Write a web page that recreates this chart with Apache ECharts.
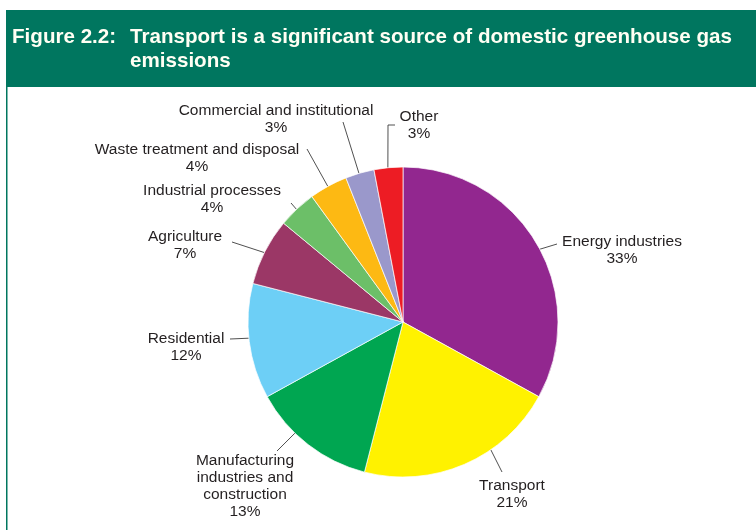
<!DOCTYPE html>
<html>
<head>
<meta charset="utf-8">
<script src="https://cdn.jsdelivr.net/npm/echarts@6/dist/echarts.min.js"></script>
<style>
  html, body { margin: 0; padding: 0; background: #ffffff; }
  #chart { width: 756px; height: 530px; }
</style>
</head>
<body>
<div id="chart"></div>
<script>
// Sources of domestic greenhouse gas emissions (share of total, %)
const categories = [
  'Energy industries',
  'Transport',
  'Manufacturing\nindustries and\nconstruction',
  'Residential',
  'Agriculture',
  'Industrial processes',
  'Waste treatment and disposal',
  'Commercial and institutional',
  'Other'
];
const shares = [33, 21, 13, 12, 7, 4, 4, 3, 3];

const sliceColors = [
  '#92278F', '#FFF200', '#00A651', '#6DCFF6', '#9B3766',
  '#6CBF68', '#FDB913', '#9A98CB', '#ED1C24'
];

// Pie geometry
const CX = 403, CY = 322, R = 155;
const GREEN = '#00765F';
const TITLE_FONT = 'bold 20.6px "Liberation Sans", Arial, sans-serif';

// Label placement: text centre, angle (deg clockwise from top) where the
// leader line leaves the rim, and the remaining leader points.
const labelSpots = [
  { x: 622, y: 250, arc: 62,    line: [[557, 244]] },
  { x: 512, y: 494, arc: 145.5, line: [[502, 472]] },
  { x: 245, y: 486, arc: 224.2, line: [[277, 451]] },
  { x: 186, y: 347, arc: 264,   line: [[230, 339]] },
  { x: 185, y: 245, arc: 296.6, line: [[232, 242]] },
  { x: 212, y: 199, arc: 316.6, line: [[291, 203]] },
  { x: 197, y: 158, arc: 331,   line: [[307, 149]] },
  { x: 276, y: 119, arc: 343.5, line: [[343, 122]] },
  { x: 419, y: 125, arc: 354.4, line: [[388, 125], [395, 125]] }
];

const chart = echarts.init(document.getElementById('chart'), null, { renderer: 'canvas' });

chart.setOption({
  animation: false,
  backgroundColor: '#ffffff',
  graphic: [
    { type: 'rect', left: 6, top: 10, shape: { width: 750, height: 77 }, style: { fill: GREEN }, silent: true },
    { type: 'rect', left: 6, top: 87, shape: { width: 1.5, height: 443 }, style: { fill: GREEN }, silent: true },
    {
      type: 'text', x: 12, y: 37,
      style: { text: 'Figure 2.2:', fill: '#FFFFF4', font: TITLE_FONT, verticalAlign: 'middle' }
    },
    {
      type: 'text', x: 130, y: 37,
      style: {
        text: 'Transport is a significant source of domestic greenhouse gas',
        fill: '#FFFFF4', font: TITLE_FONT, verticalAlign: 'middle'
      }
    },
    {
      type: 'text', x: 130, y: 61,
      style: { text: 'emissions', fill: '#FFFFF4', font: TITLE_FONT, verticalAlign: 'middle' }
    }
  ],
  series: [{
    type: 'pie',
    center: [CX, CY],
    radius: R,
    startAngle: 90,
    clockwise: true,
    avoidLabelOverlap: false,
    emphasis: { disabled: true },
    itemStyle: { borderColor: '#ffffff', borderWidth: 0.7 },
    label: {
      show: true,
      position: 'outside',
      color: '#231F20',
      fontFamily: '"Liberation Sans", Arial, sans-serif',
      fontSize: 15.5,
      lineHeight: 17,
      align: 'center',
      formatter: function (p) { return p.name + '\n' + p.value + '%'; }
    },
    labelLine: {
      show: true,
      lineStyle: { color: '#3C3C3C', width: 0.9 }
    },
    labelLayout: function (params) {
      const s = labelSpots[params.dataIndex];
      const a = s.arc * Math.PI / 180;
      const start = [CX + R * Math.sin(a), CY - R * Math.cos(a)];
      return {
        x: s.x,
        y: s.y,
        align: 'center',
        verticalAlign: 'middle',
        labelLinePoints: [start].concat(s.line)
      };
    },
    data: categories.map(function (name, i) {
      return { name: name, value: shares[i], itemStyle: { color: sliceColors[i] } };
    })
  }]
});
</script>
</body>
</html>
